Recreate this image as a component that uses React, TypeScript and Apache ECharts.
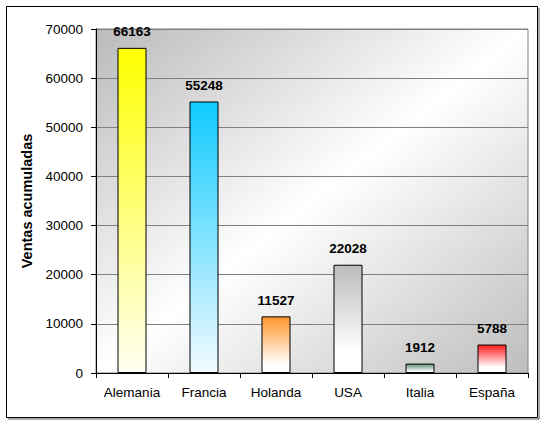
import React, { useEffect, useRef } from "react";
import * as echarts from "echarts";

const categories = ["Alemania", "Francia", "Holanda", "USA", "Italia", "España"];
const values = [66163, 55248, 11527, 22028, 1912, 5788];
const topColors = ["#ffff00", "#0fcbff", "#ff962a", "#bcbcbc", "#5f9176", "#ff1a1a"];
const bottomColors = ["#fffff2", "#f2faff", "#ffffff", "#ffffff", "#ffffff", "#ffffff"];
const fadeStops = [1, 1, 0.85, 0.8, 0.9, 0.8];
const yTicks = { min: 0, max: 70000, interval: 10000 };
const yTitle = "Ventas acumuladas";

export default function App() {
  const ref = useRef<HTMLDivElement>(null);
  useEffect(() => {
    if (!ref.current) return;
    const chart = echarts.init(ref.current, null, { renderer: "svg" });
    const font = "'Liberation Sans', Arial, sans-serif";
    chart.setOption({
      animation: false,
      backgroundColor: "#ffffff",
      textStyle: { fontFamily: font },
      grid: {
        left: 96,
        top: 29,
        width: 432,
        height: 344,
        show: true,
        borderColor: "#808080",
        borderWidth: 1,
        backgroundColor: new echarts.graphic.LinearGradient(0, 0, 1, 1, [
          { offset: 0, color: "#bababa" },
          { offset: 0.5, color: "#ffffff" },
          { offset: 1, color: "#bdbdbd" },
        ]),
      },
      xAxis: {
        type: "category",
        data: categories,
        axisLine: { lineStyle: { color: "#000", width: 1 } },
        axisTick: {
          show: true,
          length: 5,
          interval: 0,
          alignWithLabel: false,
          lineStyle: { color: "#000" },
        },
        axisLabel: { color: "#000", fontSize: 13.5, margin: 12, interval: 0, fontFamily: font },
      },
      yAxis: {
        type: "value",
        min: yTicks.min,
        max: yTicks.max,
        interval: yTicks.interval,
        name: yTitle,
        nameLocation: "middle",
        nameGap: 56,
        nameTextStyle: { color: "#000", fontSize: 14.5, fontWeight: "bold", fontFamily: font },
        axisLine: { show: true, lineStyle: { color: "#000", width: 1 } },
        axisTick: { show: true, length: 5, lineStyle: { color: "#000" } },
        axisLabel: {
          color: "#000",
          fontSize: 13.5,
          margin: 13,
          fontFamily: font,
          formatter: (v: number) => String(v),
        },
        splitLine: { show: true, lineStyle: { color: "#808080", width: 1 } },
      },
      series: [
        {
          type: "bar",
          barWidth: 29,
          data: values.map((v, i) => ({
            value: v,
            itemStyle: {
              color: new echarts.graphic.LinearGradient(0, 0, 0, 1, [
                { offset: 0, color: topColors[i] },
                { offset: fadeStops[i], color: bottomColors[i] },
                { offset: 1, color: bottomColors[i] },
              ]),
              borderColor: "#000",
              borderWidth: 1,
            },
          })),
          label: {
            show: true,
            position: "top",
            distance: 9,
            color: "#000",
            fontSize: 13.5,
            fontWeight: "bold",
            fontFamily: font,
          },
        },
      ],
      graphic: [
        {
          type: "rect",
          shape: { x: 6.5, y: 6.5, width: 531, height: 411 },
          style: { fill: "none", stroke: "#000", lineWidth: 1 },
          silent: true,
        },
        {
          type: "line",
          shape: { x1: 539, y1: 8, x2: 539, y2: 419 },
          style: { stroke: "#555", lineWidth: 1 },
          silent: true,
        },
        {
          type: "line",
          shape: { x1: 8, y1: 419, x2: 539, y2: 419 },
          style: { stroke: "#555", lineWidth: 1 },
          silent: true,
        },
      ],
    });
    return () => chart.dispose();
  }, []);
  return (
    <div
      ref={ref}
      style={{ position: "fixed", left: 0, top: 0, width: 545, height: 424 }}
    />
  );
}
